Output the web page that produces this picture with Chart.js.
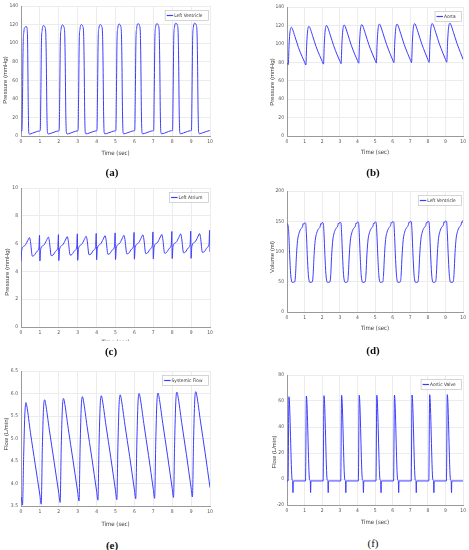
<!DOCTYPE html>
<html>
<head>
<meta charset="utf-8">
<script src="https://cdn.jsdelivr.net/npm/chart.js@4.4.1/dist/chart.umd.min.js"></script>
<style>
  body { margin: 0; background: #fff; }
  #fig { position: relative; width: 469px; height: 550px; overflow: hidden; background: #fff; }
  canvas { position: absolute; }
  .tag { position: absolute; font: bold 11px 'Liberation Serif', 'DejaVu Serif', serif; color: #111; transform: translate(-50%, -50%); line-height: 1; }
  .band { position: absolute; background: #fff; }
</style>
</head>
<body>
<div id="fig">
  <canvas id="pa" width="218" height="160" style="left:0;top:0"></canvas>
  <canvas id="pb" width="234" height="160" style="left:235px;top:0"></canvas>
  <canvas id="pc" width="218" height="175" style="left:0;top:175px"></canvas>
  <canvas id="pd" width="234" height="160" style="left:235px;top:175px"></canvas>
  <canvas id="pe" width="218" height="170" style="left:0;top:365px"></canvas>
  <canvas id="pf" width="234" height="170" style="left:235px;top:365px"></canvas>
  <div class="band" style="left:60px;top:341px;width:110px;height:9px"></div>
  <div class="tag" style="left:112px;top:172px">(a)</div>
  <div class="tag" style="left:373px;top:172px">(b)</div>
  <div class="tag" style="left:111px;top:351px">(c)</div>
  <div class="tag" style="left:373px;top:350px">(d)</div>
  <div class="tag" style="left:112px;top:545px">(e)</div>
  <div class="tag" style="left:373px;top:543px;font-weight:normal">(f)</div>
</div>
<script>
// (a) left ventricle pressure, mmHg
const lvTime = [
  0, 0.05, 0.08, 0.11, 0.15, 0.21, 0.27, 0.32, 0.35, 0.38, 0.41, 0.45, 0.6, 0.8, 0.97,
  1.02, 1.05, 1.08, 1.12, 1.2, 1.27, 1.31, 1.34, 1.37, 1.4, 1.44, 1.6, 1.8, 1.97,
  2.02, 2.05, 2.08, 2.12, 2.2, 2.27, 2.31, 2.34, 2.37, 2.4, 2.44, 2.6, 2.8, 2.97,
  3.02, 3.05, 3.08, 3.12, 3.2, 3.27, 3.31, 3.34, 3.37, 3.4, 3.44, 3.6, 3.8, 3.97,
  4.02, 4.05, 4.08, 4.12, 4.2, 4.27, 4.31, 4.34, 4.37, 4.4, 4.44, 4.6, 4.8, 4.97,
  5.02, 5.05, 5.08, 5.12, 5.2, 5.27, 5.31, 5.34, 5.37, 5.4, 5.44, 5.6, 5.8, 5.97,
  6.02, 6.05, 6.08, 6.12, 6.2, 6.27, 6.31, 6.34, 6.37, 6.4, 6.44, 6.6, 6.8, 6.97,
  7.02, 7.05, 7.08, 7.12, 7.2, 7.27, 7.31, 7.34, 7.37, 7.4, 7.44, 7.6, 7.8, 7.97,
  8.02, 8.05, 8.08, 8.12, 8.2, 8.27, 8.31, 8.34, 8.37, 8.4, 8.44, 8.6, 8.8, 8.97,
  9.02, 9.05, 9.08, 9.12, 9.2, 9.27, 9.31, 9.34, 9.37, 9.4, 9.44, 9.6, 9.8, 9.97,
  10
];
const lvPressure = [
  5, 6, 40, 95, 112, 117, 118, 116, 100, 40, 4, 2, 3, 4.5, 5.3,
  6, 45, 100, 114, 119, 117, 111, 80, 25, 4, 2.2, 3, 4.5, 5.4,
  5.8, 46, 101, 115, 119.5, 117.5, 111.5, 80, 25, 4, 2.2, 3, 4.5, 5.4,
  5.8, 46, 101, 115, 120, 118, 112, 81, 25, 4, 2.3, 3.1, 4.6, 5.5,
  5.9, 46, 101, 116, 120, 118, 112, 81, 26, 4, 2.3, 3.1, 4.6, 5.5,
  5.9, 47, 102, 116, 120.5, 118.5, 112.5, 81, 26, 4, 2.3, 3.2, 4.7, 5.6,
  6, 47, 102, 116, 121, 119, 113, 82, 26, 4, 2.4, 3.2, 4.7, 5.6,
  6, 47, 102, 117, 121, 119, 113, 82, 26, 4, 2.4, 3.2, 4.8, 5.7,
  6, 48, 103, 117, 121.5, 119.5, 113.5, 82, 27, 4, 2.4, 3.3, 4.8, 5.7,
  6.1, 48, 103, 117, 121.5, 119.5, 113.5, 82, 27, 4, 2.5, 3.3, 4.8, 5.8,
  6
];

// (b) aortic pressure, mmHg
const aoTime = [
  0, 0.04, 0.07, 0.12, 0.17, 0.25, 0.3, 0.45, 0.65, 0.85, 1.0,
  1.07, 1.12, 1.17, 1.25, 1.3, 1.45, 1.65, 1.85, 2.0,
  2.07, 2.12, 2.17, 2.25, 2.3, 2.45, 2.65, 2.85, 3.0,
  3.07, 3.12, 3.17, 3.25, 3.3, 3.45, 3.65, 3.85, 4.0,
  4.07, 4.12, 4.17, 4.25, 4.3, 4.45, 4.65, 4.85, 5.0,
  5.07, 5.12, 5.17, 5.25, 5.3, 5.45, 5.65, 5.85, 6.0,
  6.07, 6.12, 6.17, 6.25, 6.3, 6.45, 6.65, 6.85, 7.0,
  7.07, 7.12, 7.17, 7.25, 7.3, 7.45, 7.65, 7.85, 8.0,
  8.07, 8.12, 8.17, 8.25, 8.3, 8.45, 8.65, 8.85, 9.0,
  9.07, 9.12, 9.17, 9.25, 9.3, 9.45, 9.65, 9.85, 10
];
const aoPressure = [
  79, 78, 77.5, 100, 113, 118, 116.5, 108, 96, 86.5, 80,
  77, 100, 114, 119, 117.5, 109, 97, 87.5, 81,
  78, 101, 115, 120, 118.5, 110, 98, 88, 81.5,
  78.5, 101, 115, 120.5, 119, 110.5, 98.5, 88.5, 82,
  79, 102, 116, 121, 119.5, 111, 99, 89, 82.3,
  79.3, 102, 116, 121.5, 120, 111.5, 99.5, 89.5, 82.5,
  79.5, 102, 116, 121.5, 120, 111.5, 99.5, 89.5, 82.6,
  79.6, 103, 117, 122, 120.5, 112, 100, 90, 82.8,
  79.8, 103, 117, 122, 120.5, 112, 100, 90, 83,
  80, 103, 117, 122.5, 121, 112.5, 100.5, 90.5, 83
];

// (c) left atrium pressure, mmHg
const laTime = [
  0, 0.04, 0.2, 0.35, 0.45, 0.5, 0.6, 0.7, 0.85, 0.95, 0.98,
  1, 1.04, 1.2, 1.35, 1.45, 1.5, 1.6, 1.7, 1.85, 1.95, 1.98,
  2, 2.04, 2.2, 2.35, 2.45, 2.5, 2.6, 2.7, 2.85, 2.95, 2.98,
  3, 3.04, 3.2, 3.35, 3.45, 3.5, 3.6, 3.7, 3.85, 3.95, 3.98,
  4, 4.04, 4.2, 4.35, 4.45, 4.5, 4.6, 4.7, 4.85, 4.95, 4.98,
  5, 5.04, 5.2, 5.35, 5.45, 5.5, 5.6, 5.7, 5.85, 5.95, 5.98,
  6, 6.04, 6.2, 6.35, 6.45, 6.5, 6.6, 6.7, 6.85, 6.95, 6.98,
  7, 7.04, 7.2, 7.35, 7.45, 7.5, 7.6, 7.7, 7.85, 7.95, 7.98,
  8, 8.04, 8.2, 8.35, 8.45, 8.5, 8.6, 8.7, 8.85, 8.95, 8.98,
  9, 9.04, 9.2, 9.35, 9.45, 9.5, 9.6, 9.7, 9.85, 9.95, 9.98,
  10
];
const laPressure = [
  4.75, 5.55, 5.85, 6.2, 6.43, 6.15, 5.1, 5.15, 5.45, 5.7, 6.6,
  4.75, 5.58, 5.88, 6.23, 6.47, 6.18, 5.13, 5.18, 5.48, 5.73, 6.65,
  4.78, 5.6, 5.9, 6.26, 6.5, 6.21, 5.17, 5.22, 5.51, 5.76, 6.7,
  4.8, 5.63, 5.93, 6.29, 6.53, 6.24, 5.2, 5.25, 5.54, 5.79, 6.73,
  4.83, 5.66, 5.96, 6.32, 6.57, 6.27, 5.23, 5.28, 5.57, 5.82, 6.77,
  4.85, 5.69, 5.99, 6.35, 6.6, 6.3, 5.26, 5.31, 5.6, 5.85, 6.8,
  4.88, 5.72, 6.02, 6.38, 6.63, 6.33, 5.28, 5.33, 5.63, 5.88, 6.84,
  4.9, 5.75, 6.05, 6.41, 6.66, 6.36, 5.31, 5.36, 5.66, 5.91, 6.87,
  4.92, 5.78, 6.08, 6.44, 6.7, 6.39, 5.34, 5.39, 5.69, 5.94, 6.9,
  4.94, 5.81, 6.11, 6.47, 6.72, 6.42, 5.37, 5.42, 5.72, 5.97, 6.95,
  5.4
];

// (d) left ventricle volume, ml
const lvvTime = [
  0, 0.04, 0.1, 0.15, 0.21, 0.26, 0.3, 0.44, 0.48, 0.54, 0.6, 0.68, 0.78, 0.88, 0.92, 0.95,
  1, 1.06, 1.1, 1.15, 1.21, 1.26, 1.3, 1.44, 1.48, 1.54, 1.6, 1.68, 1.78, 1.88, 1.92, 1.95,
  2, 2.06, 2.1, 2.15, 2.21, 2.26, 2.3, 2.44, 2.48, 2.54, 2.6, 2.68, 2.78, 2.88, 2.92, 2.95,
  3, 3.06, 3.1, 3.15, 3.21, 3.26, 3.3, 3.44, 3.48, 3.54, 3.6, 3.68, 3.78, 3.88, 3.92, 3.95,
  4, 4.06, 4.1, 4.15, 4.21, 4.26, 4.3, 4.44, 4.48, 4.54, 4.6, 4.68, 4.78, 4.88, 4.92, 4.95,
  5, 5.06, 5.1, 5.15, 5.21, 5.26, 5.3, 5.44, 5.48, 5.54, 5.6, 5.68, 5.78, 5.88, 5.92, 5.95,
  6, 6.06, 6.1, 6.15, 6.21, 6.26, 6.3, 6.44, 6.48, 6.54, 6.6, 6.68, 6.78, 6.88, 6.92, 6.95,
  7, 7.06, 7.1, 7.15, 7.21, 7.26, 7.3, 7.44, 7.48, 7.54, 7.6, 7.68, 7.78, 7.88, 7.92, 7.95,
  8, 8.06, 8.1, 8.15, 8.21, 8.26, 8.3, 8.44, 8.48, 8.54, 8.6, 8.68, 8.78, 8.88, 8.92, 8.95,
  9, 9.06, 9.1, 9.15, 9.21, 9.26, 9.3, 9.44, 9.48, 9.54, 9.6, 9.68, 9.78, 9.88, 9.92, 9.95,
  10
];
const lvVolume = [
  146, 145, 130, 95, 62, 51, 49, 50, 60, 95, 118, 130, 137, 141, 146, 145,
  147.5, 146.5, 130, 95, 62, 51, 49, 50, 60, 95, 118, 130, 137, 141, 146, 145,
  148, 147, 130, 95, 62, 51, 49, 50, 60, 96, 119, 131, 138, 142, 147, 146,
  148.5, 147.5, 131, 95, 62, 51, 49, 50, 61, 96, 119, 131, 138, 142, 147, 146,
  149, 148, 131, 96, 62, 51, 49, 50, 61, 96, 119, 131, 138, 142, 147, 146,
  149, 148, 131, 96, 62, 51, 49, 50, 61, 97, 120, 132, 139, 143, 148, 147,
  149.5, 148.5, 131, 96, 63, 51, 49, 50, 61, 97, 120, 132, 139, 143, 148, 147,
  150, 149, 132, 96, 63, 51, 49, 50, 62, 97, 120, 132, 139, 143, 148, 147,
  150, 149, 132, 97, 63, 51, 49, 50, 62, 98, 121, 133, 140, 144, 149, 148,
  150.5, 149.5, 132, 97, 63, 51, 49, 50, 62, 98, 121, 133, 140, 144, 149, 148,
  152
];

// (e) systemic flow, L/min
const sfTime = [
  0, 0.05, 0.08, 0.14, 0.2, 0.26, 0.31, 0.5, 0.75, 1.0,
  1.07, 1.13, 1.19, 1.25, 1.3, 1.5, 1.75, 2.0,
  2.07, 2.13, 2.19, 2.25, 2.3, 2.5, 2.75, 3.0,
  3.07, 3.13, 3.19, 3.25, 3.3, 3.5, 3.75, 4.0,
  4.07, 4.13, 4.19, 4.25, 4.3, 4.5, 4.75, 5.0,
  5.07, 5.13, 5.19, 5.25, 5.3, 5.5, 5.75, 6.0,
  6.07, 6.13, 6.19, 6.25, 6.3, 6.5, 6.75, 7.0,
  7.07, 7.13, 7.19, 7.25, 7.3, 7.5, 7.75, 8.0,
  8.07, 8.13, 8.19, 8.25, 8.3, 8.5, 8.75, 9.0,
  9.07, 9.13, 9.19, 9.25, 9.3, 9.5, 9.75, 10
];
const sysFlow = [
  3.7, 3.6, 3.52, 4.6, 5.5, 5.8, 5.72, 5.13, 4.43, 3.74,
  3.54, 4.8, 5.65, 5.86, 5.78, 5.19, 4.49, 3.78,
  3.58, 4.82, 5.68, 5.89, 5.81, 5.22, 4.52, 3.81,
  3.61, 4.85, 5.72, 5.93, 5.85, 5.26, 4.56, 3.83,
  3.63, 4.87, 5.74, 5.95, 5.87, 5.28, 4.58, 3.84,
  3.64, 4.88, 5.76, 5.97, 5.89, 5.3, 4.6, 3.86,
  3.66, 4.9, 5.79, 6.0, 5.92, 5.33, 4.62, 3.87,
  3.67, 4.91, 5.8, 6.01, 5.93, 5.34, 4.63, 3.89,
  3.69, 4.93, 5.82, 6.03, 5.95, 5.36, 4.65, 3.9,
  3.7, 4.94, 5.83, 6.04, 5.96, 5.37, 4.66, 3.91
];

// (f) aortic valve flow, L/min
const avTime = [
  0, 0.06, 0.11, 0.29, 0.32, 0.34, 0.36,
  1.05, 1.1, 1.28, 1.32, 1.34, 1.36,
  2.05, 2.1, 2.28, 2.32, 2.34, 2.36,
  3.05, 3.1, 3.28, 3.32, 3.34, 3.36,
  4.05, 4.1, 4.28, 4.32, 4.34, 4.36,
  5.05, 5.1, 5.28, 5.32, 5.34, 5.36,
  6.05, 6.1, 6.28, 6.32, 6.34, 6.36,
  7.05, 7.1, 7.28, 7.32, 7.34, 7.36,
  8.05, 8.1, 8.28, 8.32, 8.34, 8.36,
  9.05, 9.1, 9.28, 9.32, 9.34, 9.36,
  10
];
const avFlow = [
  -1.5, -1.5, 63.3, -0.5, -1.5, -10.5, -1.5,
  -1.5, 63.8, -0.5, -1.5, -10.5, -1.5,
  -1.5, 64.1, -0.5, -1.5, -10.5, -1.5,
  -1.5, 64.4, -0.5, -1.5, -10.5, -1.5,
  -1.5, 64.4, -0.5, -1.5, -10.5, -1.5,
  -1.5, 64.4, -0.5, -1.5, -10.5, -1.5,
  -1.5, 64.6, -0.5, -1.5, -10.5, -1.5,
  -1.5, 64.6, -0.5, -1.5, -10.5, -1.5,
  -1.5, 64.9, -0.5, -1.5, -10.5, -1.5,
  -1.5, 64.9, -0.5, -1.5, -10.5, -1.5,
  -1.5
];

const NARROW = "'Liberation Sans Narrow', 'DejaVu Sans Condensed', 'Liberation Sans', sans-serif";
const LINE_BLUE = '#3c3cff';

function pairs(ts, vs) {
  return ts.map((t, i) => ({ x: t, y: vs[i] }));
}

// axis titles drawn by hand so they can sit where the figure has them
const axisTitles = {
  id: 'axisTitles',
  afterDraw(chart, args, o) {
    const { ctx, chartArea: a } = chart;
    ctx.save();
    ctx.fillStyle = '#3a3a3a';
    ctx.textAlign = 'center';
    ctx.textBaseline = 'middle';
    ctx.font = '6px ' + NARROW;
    ctx.fillText(o.x, (a.left + a.right) / 2, o.xy);
    ctx.font = "6px 'Liberation Sans', Arial, sans-serif";
    ctx.translate(o.yx, o.yy);
    ctx.rotate(-Math.PI / 2);
    ctx.fillText(o.y, 0, 0);
    ctx.restore();
  }
};

// small boxed legend in the top right corner of the plot
const boxLegend = {
  id: 'boxLegend',
  afterDatasetsDraw(chart) {
    const ds = chart.data.datasets[0];
    const { ctx, chartArea: a } = chart;
    ctx.save();
    ctx.font = '4.8px ' + NARROW;
    const tw = ctx.measureText(ds.label).width;
    const w = tw + 15, h = 10;
    const x = a.right - 1.5 - w, y = a.top + 4.5;
    ctx.fillStyle = '#fff';
    ctx.fillRect(x, y, w, h);
    ctx.strokeStyle = '#c4c4c4';
    ctx.lineWidth = 0.7;
    ctx.strokeRect(x, y, w, h);
    ctx.strokeStyle = ds.borderColor;
    ctx.lineWidth = 1.2;
    ctx.beginPath();
    ctx.moveTo(x + 1.5, y + h / 2);
    ctx.lineTo(x + 8, y + h / 2);
    ctx.stroke();
    ctx.fillStyle = '#333';
    ctx.textBaseline = 'middle';
    ctx.fillText(ds.label, x + 9, y + h / 2 + 0.3);
    ctx.restore();
  }
};

function drawPanel(p) {
  const tickFont = { family: NARROW, size: 5 };
  const ctx = document.getElementById(p.id).getContext('2d');
  return new Chart(ctx, {
    type: 'line',
    data: {
      datasets: [{
        label: p.label,
        data: pairs(p.time, p.vals),
        borderColor: LINE_BLUE,
        borderWidth: 1,
        pointRadius: 0,
        fill: false,
        cubicInterpolationMode: 'monotone'
      }]
    },
    options: {
      responsive: false,
      animation: false,
      devicePixelRatio: 1,
      layout: { padding: { top: p.top, right: p.right, left: 0, bottom: 0 } },
      plugins: {
        legend: { display: false },
        tooltip: { enabled: false },
        axisTitles: { x: 'Time (sec)', y: p.yTitle, xy: p.xTitleY, yx: p.yTitlePos[0], yy: p.yTitlePos[1] }
      },
      scales: {
        x: {
          type: 'linear', min: 0, max: 10,
          afterFit: s => { s.height = p.xh; },
          ticks: { stepSize: 1, padding: 3, color: '#555', font: tickFont, maxRotation: 0, autoSkip: false },
          grid: { color: '#ececec', drawTicks: false },
          border: { color: '#9a9a9a', width: 1 }
        },
        y: {
          min: p.yMin, max: p.yMax,
          afterFit: s => { s.width = p.yw; },
          ticks: { stepSize: p.yStep, padding: 3, color: '#555', font: tickFont },
          grid: { color: '#ececec', drawTicks: false },
          border: { color: '#9a9a9a', width: 1 }
        }
      }
    },
    plugins: [axisTitles, boxLegend]
  });
}

const panels = [
  { id: 'pa', label: 'Left Ventricle', time: lvTime, vals: lvPressure, yMin: 0, yMax: 140, yStep: 20,
    yTitle: 'Pressure (mmHg)', top: 5, right: 8, yw: 21, xh: 24, xTitleY: 153, yTitlePos: [5, 80] },
  { id: 'pb', label: 'Aorta', time: aoTime, vals: aoPressure, yMin: 0, yMax: 140, yStep: 20,
    yTitle: 'Pressure (mmHg)', top: 7, right: 5, yw: 52, xh: 24, xTitleY: 152, yTitlePos: [37, 82] },
  { id: 'pc', label: 'Left Atrium', time: laTime, vals: laPressure, yMin: 0, yMax: 10, yStep: 2,
    yTitle: 'Pressure (mmHg)', top: 13, right: 8, yw: 21, xh: 23, xTitleY: 167, yTitlePos: [7, 97] },
  { id: 'pd', label: 'Left Ventricle', time: lvvTime, vals: lvVolume, yMin: 0, yMax: 200, yStep: 50,
    yTitle: 'Volume (ml)', top: 16, right: 5, yw: 52, xh: 23, xTitleY: 153, yTitlePos: [37, 82] },
  { id: 'pe', label: 'Systemic Flow', time: sfTime, vals: sysFlow, yMin: 3.5, yMax: 6.5, yStep: 0.5,
    yTitle: 'Flow (L/min)', top: 6, right: 8, yw: 21, xh: 29, xTitleY: 159, yTitlePos: [6, 69] },
  { id: 'pf', label: 'Aortic Valve', time: avTime, vals: avFlow, yMin: -20, yMax: 80, yStep: 20,
    yTitle: 'Flow (L/min)', top: 10, right: 5, yw: 52, xh: 30, xTitleY: 157, yTitlePos: [39, 87] }
];

panels.forEach(drawPanel);
</script>
</body>
</html>
